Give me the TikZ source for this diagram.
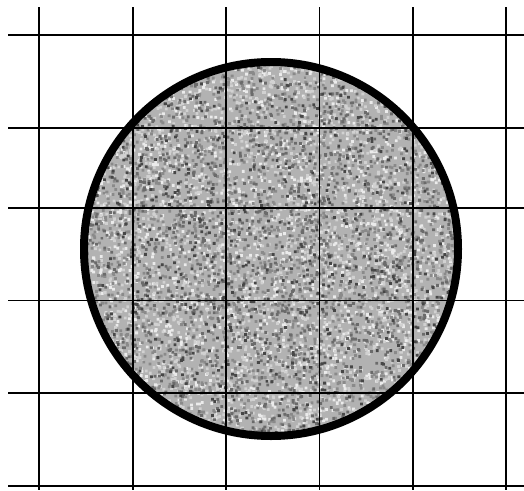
\documentclass[tikz,border=0pt]{standalone}
\usetikzlibrary{calc}

\begin{document}
\begin{tikzpicture}[x=1pt, y=-1pt,
      gridline/.style={line width=1.6pt, color=black},
      rim/.style={line width=8pt, color=black},
    ]
      \useasboundingbox (0,0) rectangle (524,490);
      \coordinate (ctr) at (271,249);

      % speckled disc: one path per grey level
      \begin{scope}
        \clip (ctr) circle[radius=187];
        \fill[black!30] (ctr) circle[radius=187];
        \pgfmathsetseed{4242}
        \foreach \g/\n in {8/2200, 18/2400, 46/2400, 58/1600, 72/700}{
          \fill[black!\g] \foreach \i in {1,...,\n}{
            (271+188*rand, 249+188*rand) rectangle ++(2.8,2.8)
          };
        }
      \end{scope}

      % grid
      \foreach \gx in {39,132.7,226,319.3,412.7,506}
        \draw[gridline] (\gx,7) -- (\gx,490);
      \foreach \gy in {34.7,127.7,207.7,300.3,392.7,486}
        \draw[gridline] (8,\gy) -- (524,\gy);

      \draw[rim] (ctr) circle[radius=187];
    \end{tikzpicture}
\end{document}
